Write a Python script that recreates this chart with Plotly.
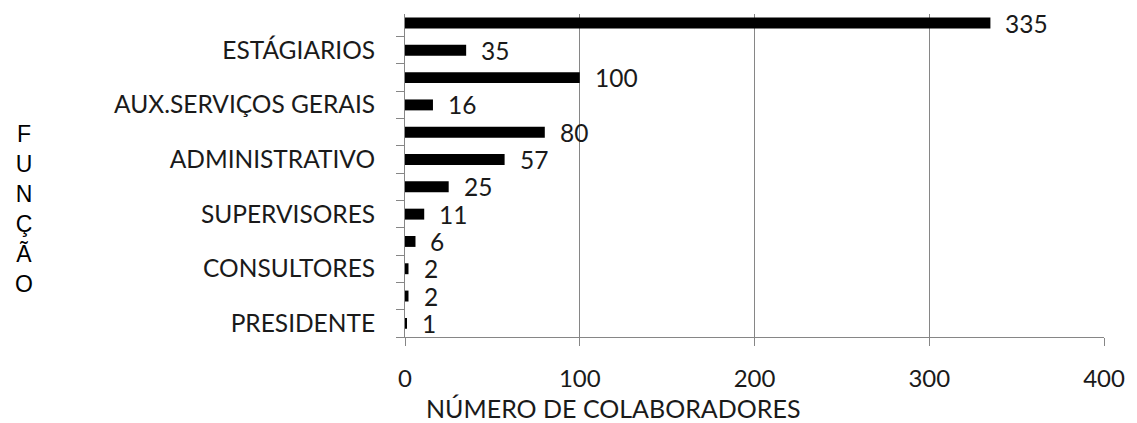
import plotly.graph_objects as go

# ---- data (bottom to top) ----
categories = ["PRESIDENTE", "", "CONSULTORES", "", "SUPERVISORES", "",
              "ADMINISTRATIVO", "", "AUX.SERVIÇOS GERAIS", "", "ESTÁGIARIOS", ""]
values = [1, 2, 2, 6, 11, 25, 57, 80, 16, 100, 35, 335]
x_ticks = [0, 100, 200, 300, 400]
x_title = "NÚMERO DE COLABORADORES"
y_title = "FUNÇÃO"

W, H = 1137, 423
ML, MR, MT, MB = 405, 27, 14, 86
PW, PH = W - ML - MR, H - MT - MB
GRID = "#868686"
FONT = "Lato"
TXT = "#1a1a1a"

positions = list(range(len(values)))
label_pos = [i for i, c in enumerate(categories) if c]
label_txt = [c for c in categories if c]

fig = go.Figure()
fig.add_trace(go.Bar(
    x=values, y=positions, orientation="h",
    marker=dict(color="#000000", line=dict(width=0)),
    hoverinfo="skip",
))

annotations = []
for v, p in zip(values, positions):
    annotations.append(dict(
        x=v, y=p, xref="x", yref="y", text=str(v), showarrow=False,
        xanchor="left", yanchor="middle", xshift=13,
        font=dict(family=FONT, size=24.5, color=TXT),
    ))

# x-axis title
annotations.append(dict(
    x=(615 - ML) / PW, y=-(408 - MT - PH) / PH, xref="paper", yref="paper",
    text=x_title, showarrow=False, xanchor="center", yanchor="middle",
    font=dict(family=FONT, size=25, color=TXT),
))
# y-axis title (stacked letters)
annotations.append(dict(
    x=(21 - ML) / PW, y=(MT + PH - 209) / PH, xref="paper", yref="paper",
    text="<br>".join(list(y_title)), showarrow=False,
    xanchor="center", yanchor="middle",
    font=dict(family="Liberation Sans", size=23, color="#000000"),
))

fig.update_layout(
    width=W, height=H,
    margin=dict(l=ML, r=MR, t=MT, b=MB, pad=0),
    paper_bgcolor="white", plot_bgcolor="white",
    bargap=0.6, showlegend=False,
    annotations=annotations,
    font=dict(family=FONT, size=24, color=TXT),
    xaxis=dict(
        range=[0, 400], tickmode="array", tickvals=x_ticks,
        ticktext=[str(t) for t in x_ticks],
        showgrid=True, gridcolor=GRID, gridwidth=1,
        zeroline=False, showline=True, linecolor=GRID, linewidth=1,
        ticks="outside", ticklen=8, tickcolor=GRID, tickwidth=1,
        ticklabelstandoff=12,
        tickfont=dict(family=FONT, size=24, color=TXT),
    ),
    yaxis=dict(
        range=[-0.5, 11.33], tickmode="array", tickvals=label_pos,
        ticktext=label_txt,
        showgrid=False, zeroline=False, showline=True, linecolor=GRID, linewidth=1,
        ticks="outside", ticklen=8, tickcolor="rgba(0,0,0,0)",
        ticklabelstandoff=16,
        tickfont=dict(family=FONT, size=24.5, color=TXT),
        minor=dict(tickmode="array", tickvals=[p - 0.5 for p in positions],
                   ticks="outside", ticklen=8, tickcolor=GRID, tickwidth=1,
                   showgrid=False),
    ),
)

fig.write_html("out.html")
